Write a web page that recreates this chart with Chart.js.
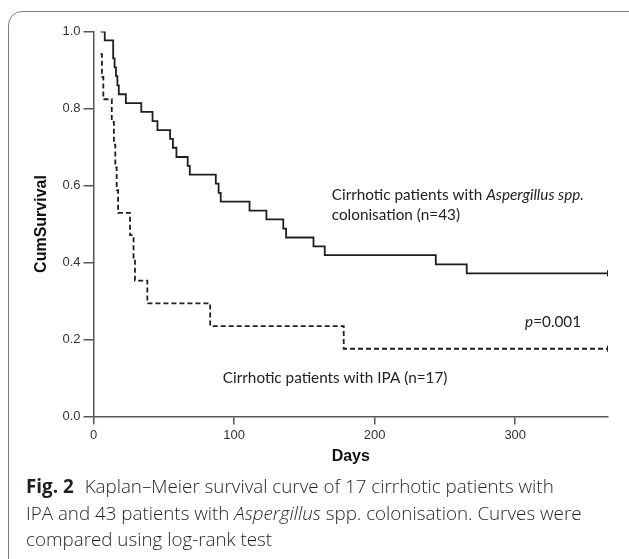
<!DOCTYPE html>
<html>
<head>
<meta charset="utf-8">
<script src="https://cdn.jsdelivr.net/npm/chart.js@4.4.1/dist/chart.umd.min.js"></script>
<style>
html,body{margin:0;padding:0;background:#fff;width:629px;height:559px;overflow:hidden;}
#wrap{position:relative;width:629px;height:559px;}
#frame{position:absolute;left:8px;top:11px;width:700px;height:700px;border:1.5px solid #808080;border-radius:14px;box-sizing:border-box;}
#chart{position:absolute;left:0;top:0;}
#caption{position:absolute;left:26px;top:473px;white-space:nowrap;font-family:"Open Sans",sans-serif;font-size:18.8px;line-height:26.7px;color:#231f20;font-weight:300;}
#caption b{font-weight:700;margin-right:11px;}
</style>
</head>
<body>
<div id="wrap">
 <div id="frame"></div>
 <canvas id="chart" width="629" height="559"></canvas>
 <div id="caption"><b>Fig. 2</b>Kaplan–Meier survival curve of 17 cirrhotic patients with<br>IPA and 43 patients with <i>Aspergillus</i> spp. colonisation. Curves were<br>compared using log-rank test</div>
</div>
<script>
// survival steps (days, cumulative survival)
const colonDays=[5,8,14,14,15,16,17,18,23,34,42,45.5,54.5,56.5,59,67,68.5,87,89,90.5,111,123,135,137,156.5,164.5,243.5,265.5,366];
const colonSurv=[1.000,0.977,0.953,0.930,0.907,0.884,0.860,0.837,0.814,0.791,0.767,0.744,0.721,0.698,0.674,0.651,0.628,0.605,0.581,0.558,0.535,0.512,0.488,0.465,0.442,0.419,0.395,0.372,0.372];
const ipaDays=[5,6,7,13,14.5,15.5,16.5,17.5,26,28.5,29.5,38.3,83,178,366];
const ipaSurv=[0.941,0.882,0.824,0.765,0.706,0.647,0.588,0.529,0.471,0.412,0.353,0.294,0.235,0.176,0.176];
const xTicks=[0,100,200,300];
const yTicks=[0,0.2,0.4,0.6,0.8,1.0];

// text notes inside the plot, anchored in data units
const notes=[
 {day:169.5,surv:0.575,parts:[["Cirrhotic patients with ",""],["Aspergillus spp.","italic"]]},
 {day:169.5,surv:0.523,parts:[["colonisation (n=43)",""]]},
 {day:92,surv:0.099,parts:[["Cirrhotic patients with IPA (n=17)",""]]},
 {day:307,surv:0.245,parts:[["p","italic"],["=0.001",""]]}
];

const notesPlugin={
 id:"notes",
 afterDatasetsDraw(chart){
  const {ctx,scales:{x,y}}=chart;
  ctx.save();
  ctx.fillStyle="#222";
  ctx.textBaseline="middle";
  notes.forEach(n=>{
   let px=x.getPixelForValue(n.day);
   const py=y.getPixelForValue(n.surv);
   n.parts.forEach(([txt,st])=>{
    ctx.font=st+" 15.3px Lato";
    ctx.fillText(txt,px,py);
    px+=ctx.measureText(txt).width;
   });
  });
  ctx.restore();
 }
};

const pts=(d,s)=>d.map((v,i)=>({x:v,y:s[i]}));
const endMark=c=>c.dataIndex===c.dataset.data.length-1?3:0;

new Chart(document.getElementById("chart"),{
 type:"line",
 data:{datasets:[
  {label:"Aspergillus spp. colonisation",data:pts(colonDays,colonSurv),stepped:true,borderColor:"#1e1e1e",borderWidth:1.8,
   pointStyle:"line",rotation:90,pointRadius:endMark,pointBorderColor:"#1e1e1e",pointBorderWidth:2,fill:false},
  {label:"IPA",data:pts(ipaDays,ipaSurv),stepped:true,borderColor:"#1e1e1e",borderWidth:1.8,borderDash:[5,3],
   pointStyle:"line",rotation:90,pointRadius:endMark,pointBorderColor:"#1e1e1e",pointBorderWidth:2,fill:false}
 ]},
 options:{
  responsive:false,animation:false,
  layout:{padding:{left:0,right:21,top:31.5,bottom:82.5}},
  plugins:{legend:{display:false},tooltip:{enabled:false}},
  scales:{
   x:{type:"linear",min:0,max:366,
    afterBuildTicks:s=>{s.ticks=xTicks.map(v=>({value:v}));},
    ticks:{color:"#333",font:{family:"Liberation Sans",size:13},padding:3,maxRotation:0},
    grid:{drawOnChartArea:false,tickLength:8,color:"#555",lineWidth:1.5},
    border:{color:"#555",width:1.5},
    title:{display:true,text:"Days",color:"#111",font:{family:"Liberation Sans",size:16,weight:"bold"},padding:{top:0,bottom:10}},
    afterFit:s=>{s.height=60;}
   },
   y:{type:"linear",min:0,max:1,
    afterBuildTicks:s=>{s.ticks=yTicks.map(v=>({value:v}));},
    ticks:{color:"#333",font:{family:"Liberation Sans",size:13},padding:3,callback:v=>v.toFixed(1)},
    grid:{drawOnChartArea:false,tickLength:10,color:"#555",lineWidth:1.5},
    border:{color:"#555",width:1.5},
    title:{display:true,text:"CumSurvival",color:"#111",font:{family:"Liberation Sans",size:16,weight:"bold"},padding:{top:32,bottom:0}},
    afterFit:s=>{s.width=93.5;}
   }
  }
 },
 plugins:[notesPlugin]
});
</script>
</body>
</html>
